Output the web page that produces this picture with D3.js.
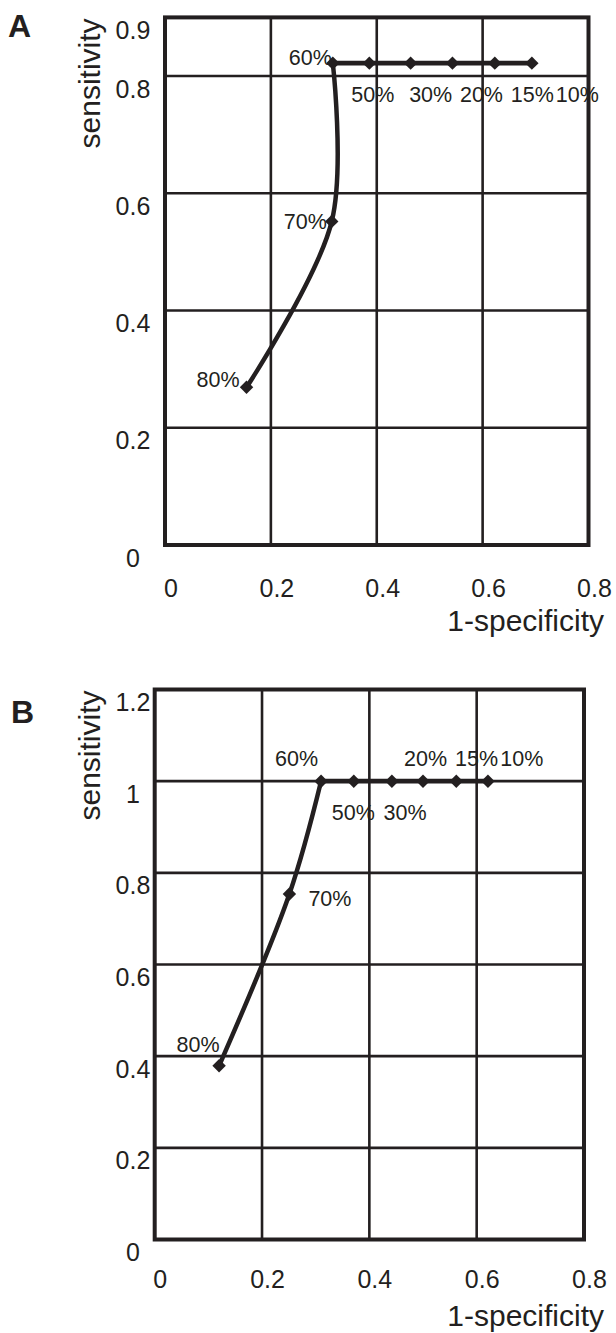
<!DOCTYPE html>
<html lang="en">
<head>
<meta charset="UTF-8">
<title>ROC curves A / B</title>
<script src="https://cdn.jsdelivr.net/npm/d3@7"></script>
<style>
  body { margin: 0; background: #fff; }
  svg text { font-family: Arial, "Liberation Sans", Helvetica, sans-serif; fill: #231f20; }
</style>
</head>
<body>
<div id="chart"></div>
<script>
// cut-off values, same order in both panels
var cutoffs = ["80%", "70%", "60%", "50%", "30%", "20%", "15%", "10%"];

// panel A
var fprA  = [0.154, 0.315, 0.317, 0.386, 0.464, 0.543, 0.623, 0.693];
var sensA = [0.269, 0.552, 0.822, 0.822, 0.822, 0.822, 0.822, 0.822];

// panel B
var fprB  = [0.120, 0.251, 0.310, 0.371, 0.442, 0.500, 0.562, 0.621];
var sensB = [0.379, 0.754, 1, 1, 1, 1, 1, 1];

// ticks
var xTicks  = [0, 0.2, 0.4, 0.6, 0.8];
var yTicksA = [0, 0.2, 0.4, 0.6, 0.8, 0.9];
var yTicksB = [0, 0.2, 0.4, 0.6, 0.8, 1, 1.2];

var ink = "#231f20";
var width = 616, height = 1333;

var svg = d3.select('#chart')
            .append('svg')
            .attr('width', width)
            .attr('height', height);

function drawPanel(opt) {
    var x = d3.scaleLinear().domain([0, 0.8]).range(opt.xRange);
    var y = d3.scaleLinear().domain(opt.yDomain).range(opt.yRange);
    var yTop = opt.yDomain[1];

    var g = svg.append('g');

    // grid
    g.selectAll('.vgrid')
        .data(xTicks.slice(1, -1))
        .join('line')
        .attr('x1', d => x(d)).attr('x2', d => x(d))
        .attr('y1', y(0)).attr('y2', y(yTop))
        .attr('stroke', ink).attr('stroke-width', 2.6);

    g.selectAll('.hgrid')
        .data(opt.yTicks.slice(1, -1))
        .join('line')
        .attr('x1', x(0)).attr('x2', x(0.8))
        .attr('y1', d => y(d)).attr('y2', d => y(d))
        .attr('stroke', ink).attr('stroke-width', 2.6);

    // frame
    g.append('rect')
        .attr('x', x(0)).attr('y', y(yTop))
        .attr('width', x(0.8) - x(0))
        .attr('height', y(0) - y(yTop))
        .attr('fill', 'none')
        .attr('stroke', ink).attr('stroke-width', 4);

    // tick labels
    g.selectAll('.xlab')
        .data(xTicks)
        .join('text')
        .attr('x', d => x(d) + opt.xLabelDx)
        .attr('y', y(0) + opt.xLabelDy)
        .attr('text-anchor', 'middle')
        .attr('font-size', 25)
        .text(d => d3.format('~g')(d));

    g.selectAll('.ylab')
        .data(opt.yTicks)
        .join('text')
        .attr('x', 133)
        .attr('y', d => y(d) + 21.5)
        .attr('text-anchor', 'middle')
        .attr('font-size', 25)
        .text(d => d3.format('~g')(d));

    // axis titles
    g.append('text')
        .attr('transform', 'translate(100,' + (y(yTop) + 1) + ') rotate(-90)')
        .attr('text-anchor', 'end')
        .attr('font-size', 30)
        .text('sensitivity');

    g.append('text')
        .attr('x', 604)
        .attr('y', y(0) + 86)
        .attr('text-anchor', 'end')
        .attr('font-size', 30)
        .text('1-specificity');

    // panel letter
    g.append('text')
        .attr('x', opt.letterX)
        .attr('y', opt.letterY)
        .attr('font-size', 32)
        .attr('font-weight', 'bold')
        .text(opt.letter);

    // curve: smooth through the low cut-offs, straight along the plateau
    var pts = opt.fpr.map((v, i) => ({ fpr: v, sens: opt.sens[i], label: cutoffs[i], off: opt.labelOff[i] }));

    var smooth = d3.line()
        .x(d => x(d.fpr)).y(d => y(d.sens))
        .curve(d3.curveCatmullRom.alpha(0.5));
    var straight = d3.line()
        .x(d => x(d.fpr)).y(d => y(d.sens));

    g.append('path')
        .attr('d', smooth(pts.slice(0, 3)))
        .attr('fill', 'none').attr('stroke', ink)
        .attr('stroke-width', 4.5).attr('stroke-linejoin', 'round').attr('stroke-linecap', 'round');

    g.append('path')
        .attr('d', straight(pts.slice(2)))
        .attr('fill', 'none').attr('stroke', ink)
        .attr('stroke-width', 4.8).attr('stroke-linejoin', 'round');

    // markers
    g.selectAll('.mark')
        .data(pts)
        .join('path')
        .attr('d', d3.symbol().type(d3.symbolSquare).size(90))
        .attr('transform', d => 'translate(' + x(d.fpr) + ',' + y(d.sens) + ') rotate(45)')
        .attr('fill', ink);

    // cut-off labels
    g.selectAll('.cut')
        .data(pts)
        .join('text')
        .attr('x', d => x(d.fpr) + d.off[0])
        .attr('y', d => y(d.sens) + d.off[1])
        .attr('font-size', 21.5)
        .text(d => d.label);
}

drawPanel({
    letter: 'A', letterX: 8, letterY: 37,
    fpr: fprA, sens: sensA,
    yDomain: [0, 0.9], yTicks: yTicksA,
    xRange: [165, 588.5], yRange: [545, 17.4],
    xLabelDx: 6, xLabelDy: 52,
    labelOff: [[-50, 0], [-48, 7.6], [-44, 2], [-18, 38.4], [-1.5, 38.4], [7.5, 38.4], [16, 38.4], [24, 38.4]]
});

drawPanel({
    letter: 'B', letterX: 11, letterY: 723,
    fpr: fprB, sens: sensB,
    yDomain: [0, 1.2], yTicks: yTicksB,
    xRange: [154.7, 584], yRange: [1239.5, 689.5],
    xLabelDx: 5.5, xLabelDy: 48.5,
    labelOff: [[-42.6, -13.3], [19, 12], [-46, -15], [-22, 39], [-8.4, 39], [-19, -15], [-1.3, -15], [12.3, -15]]
});
</script>
</body>
</html>
